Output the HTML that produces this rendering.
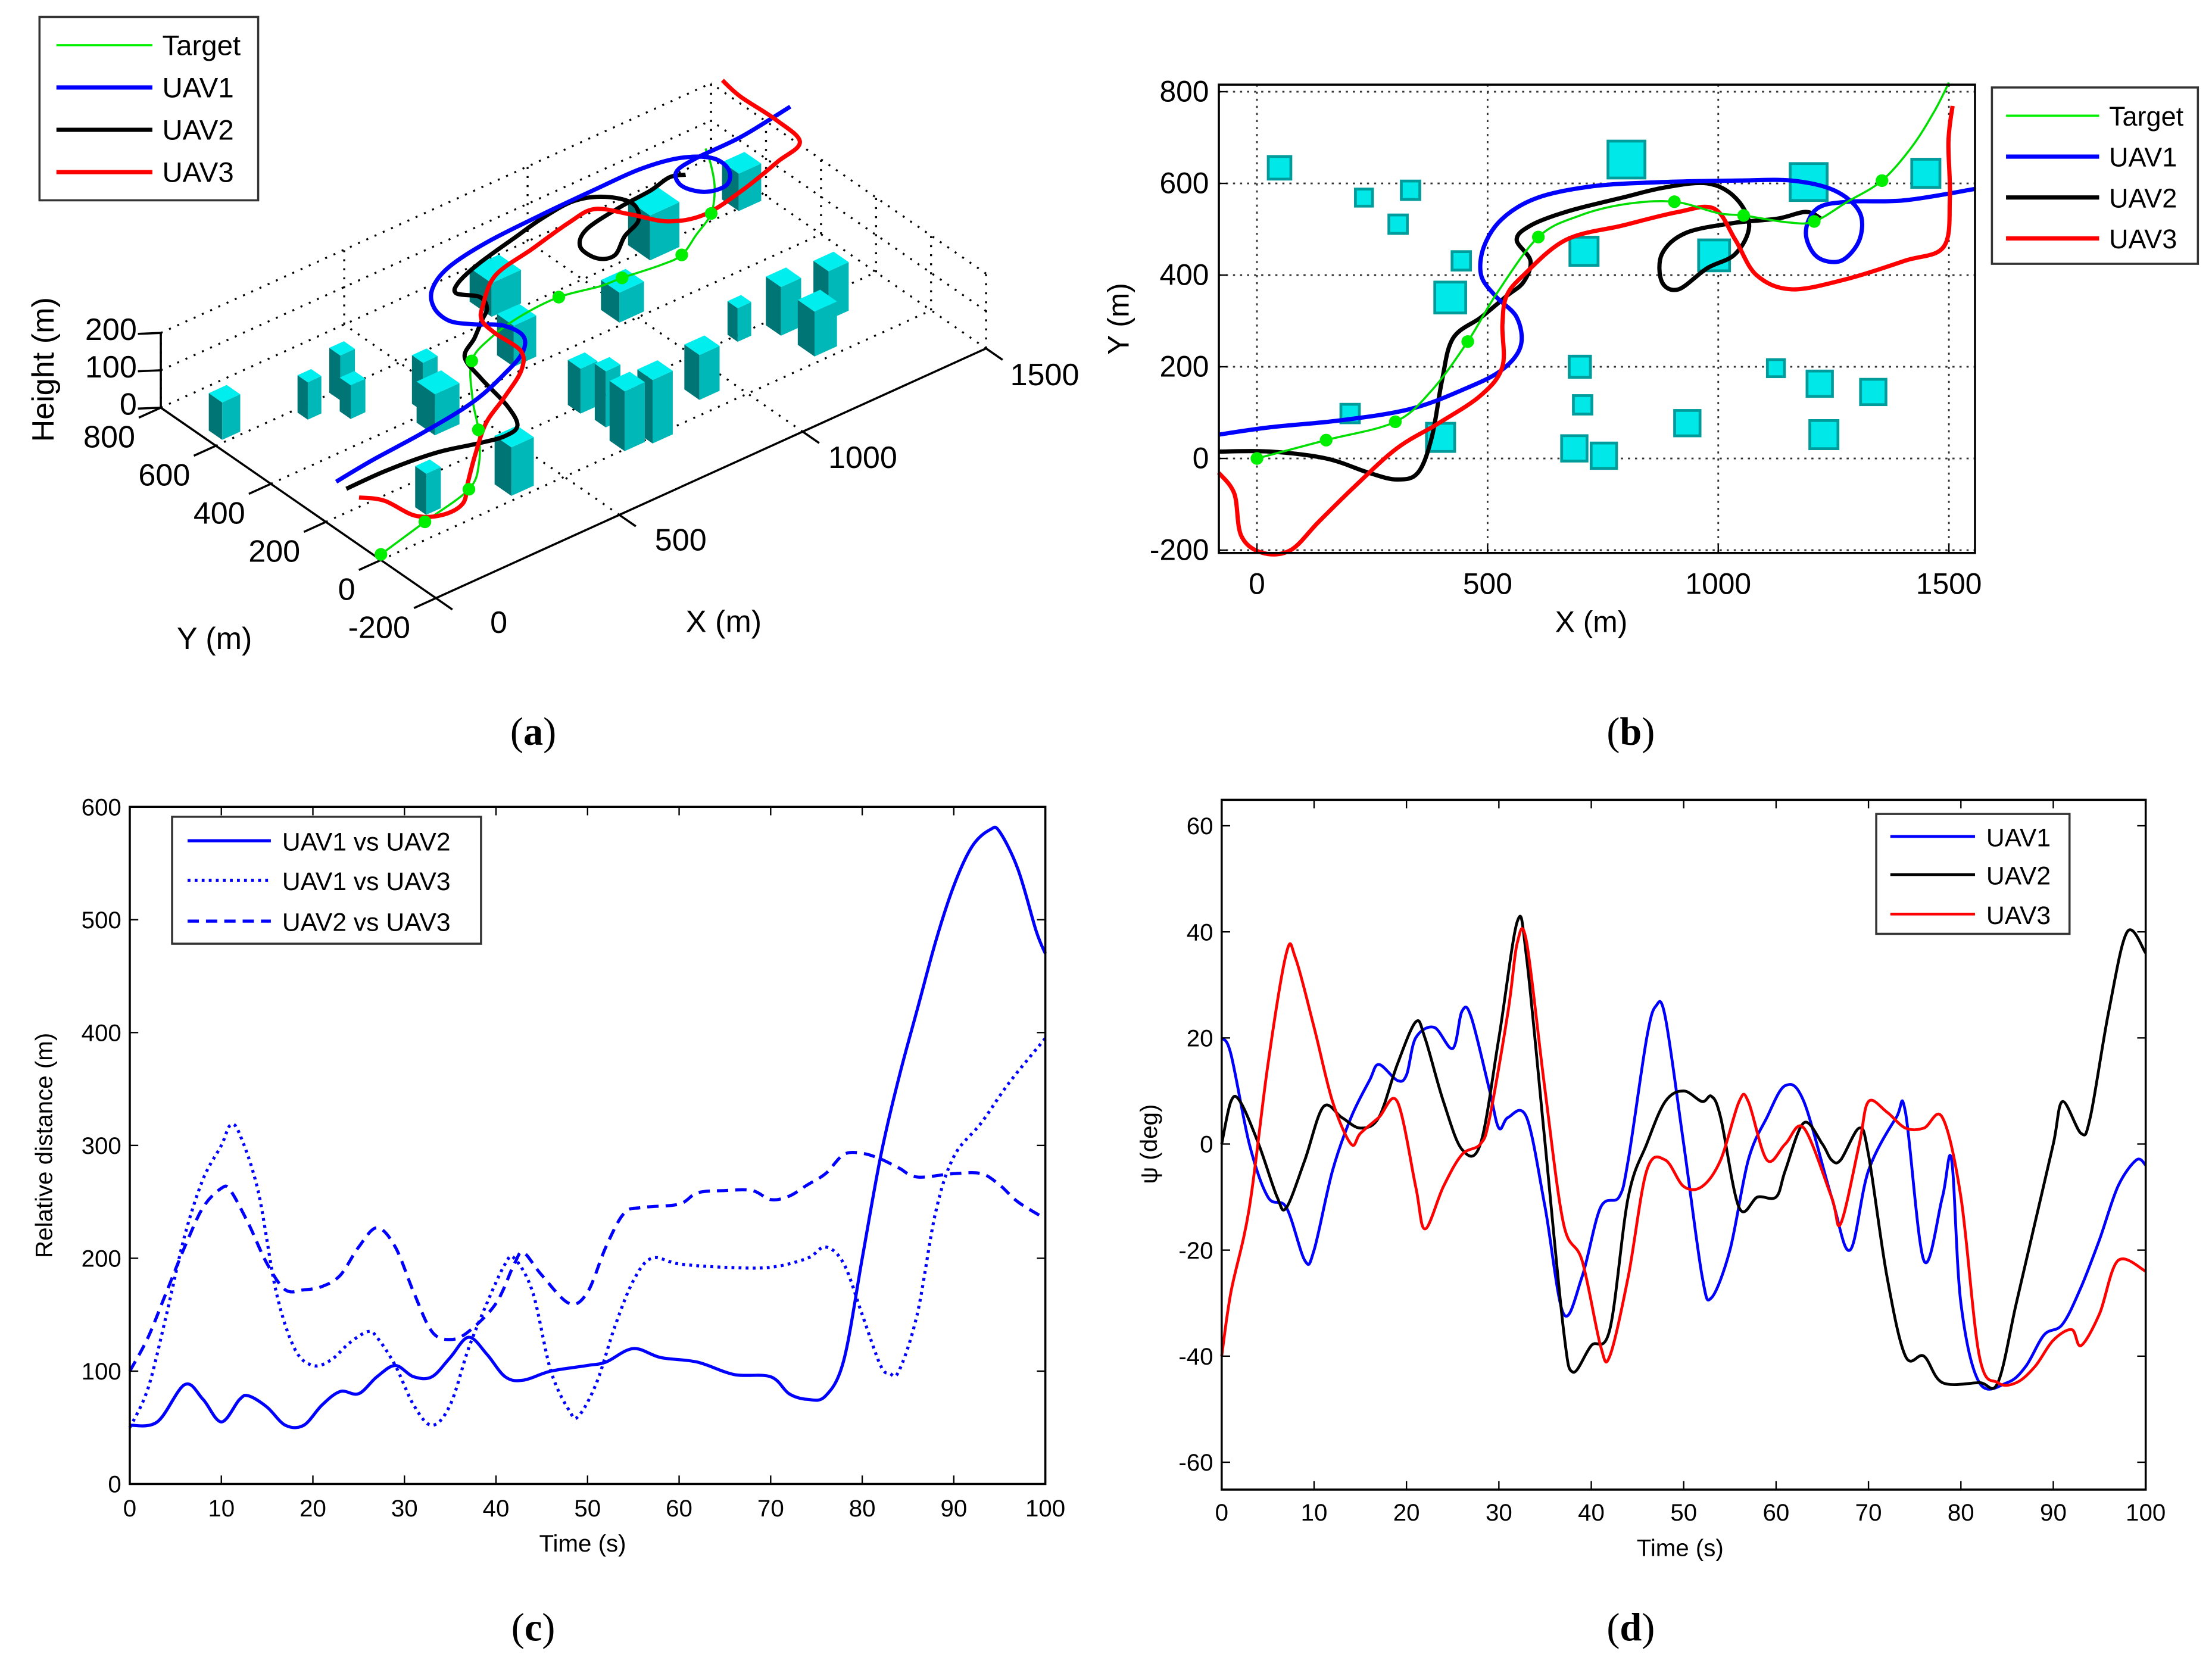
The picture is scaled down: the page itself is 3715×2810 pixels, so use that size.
<!DOCTYPE html>
<html><head><meta charset="utf-8"><style>
html,body{margin:0;padding:0;background:#fff;}
svg{display:block;}
text{font-family:"Liberation Sans",Arial,sans-serif;fill:#000;}
.cap{font-family:"Liberation Serif",serif;font-size:28px;}
</style></head><body>
<svg id="fig" xmlns="http://www.w3.org/2000/svg" width="3715" height="2810" viewBox="0 0 1568 1186">
<rect x="0" y="0" width="1568" height="1186" fill="#fff"/>
<g id="pa"></g>
<g id="pb"></g>
<g id="pc"></g>
<g id="pd"></g>
<text class="cap" x="378" y="528" text-anchor="middle">(<tspan font-weight="bold">a</tspan>)</text>
<text class="cap" x="1156" y="528" text-anchor="middle">(<tspan font-weight="bold">b</tspan>)</text>
<text class="cap" x="378" y="1163" text-anchor="middle">(<tspan font-weight="bold">c</tspan>)</text>
<text class="cap" x="1156" y="1163" text-anchor="middle">(<tspan font-weight="bold">d</tspan>)</text>
</svg>
<script>
const targetX=[0,150,300,380,457,520,610,700,800,905,1000,1055,1150,1208,1280,1355,1420,1470,1500];
const targetY=[0,40,80,150,255,360,483,530,555,560,535,530,515,517,560,606,680,760,820];
const targetDots=[0,1,2,4,6,9,11,13,15];
const uav1X=[-83,28,180,333,456,532,572,563,517,486,492,532,609,731,884,1037,1159,1251,1306,1306,1266,1214,1190,1214,1281,1404,1557];
const uav1Y=[52,68,83,108,154,194,246,308,354,400,462,523,569,594,603,606,606,585,538,477,431,440,492,545,560,563,588];
const uav2X=[-83,28,150,242,303,349,379,401,425,486,541,578,593,563,593,670,792,884,976,1037,1067,1037,976,914,878,878,930,1037,1128,1190,1223];
const uav2Y=[15,15,0,-31,-46,-31,46,169,262,308,354,385,431,477,508,538,569,591,600,569,508,446,415,369,385,446,492,514,523,538,523];
const uav3X=[-83,-49,-34,12,73,134,211,303,394,486,532,532,541,578,670,792,914,991,1037,1083,1159,1281,1404,1489,1502,1499,1508];
const uav3Y=[-31,-77,-169,-206,-200,-138,-62,22,77,138,200,292,354,400,477,508,538,545,477,400,369,392,431,462,569,692,769];
const uavZ=220, targetZ=15;
const bldX=[49,232,333,306,443,419,801,709,991,1196,1450,700,706,202,398,688,752,933,1125,1220,1336,1229];
const bldY=[634,569,585,511,431,351,652,452,443,603,622,200,117,98,46,22,6,77,197,163,145,52];
const bldS=[49,37,40,40,40,67,80,61,67,80,61,46,40,40,61,55,55,55,37,55,55,61];
const bldH=[100,100,120,90,130,110,90,110,80,120,100,120,150,110,130,160,170,120,90,130,130,120];
const cT1=[0,3,6,8,10,12,13,15,17,19,21,23,25,27,29,31,33,35,37,39,41,43,46,50,52,55,58,62,66,70,72,74,76,78,80,82,84,86,88,90,92,94,95,97,99,100];
const cV1=[52,55,88,75,55,75,78,68,52,52,70,82,80,95,105,95,95,112,130,115,95,92,100,105,108,120,112,108,97,95,80,75,78,110,200,290,360,420,480,530,565,580,578,545,490,470];
const cT2=[0,2,4,6,8,10,11,12,14,16,18,20,22,24,26,27,29,31,33,35,37,39,41,42,44,46,48,49,51,53,55,57,60,65,70,74,76,78,80,82,83,84,86,88,90,93,96,100];
const cV2=[50,85,150,220,270,300,318,310,260,170,120,105,110,125,135,130,105,70,52,70,120,160,195,200,170,100,65,60,90,140,180,200,195,192,192,200,210,195,150,105,98,100,150,240,290,320,355,395];
const cT3=[0,2,4,6,8,10,11,13,15,17,19,21,23,25,27,29,31,33,35,37,40,42,43,45,48,50,52,54,56,60,62,65,68,70,72,74,76,78,80,82,84,86,90,93,95,97,100];
const cV3=[100,130,170,210,245,262,260,230,195,172,172,175,185,210,227,210,170,135,128,135,160,195,205,185,160,170,210,240,245,248,258,260,260,252,255,265,275,292,293,288,280,272,275,275,265,250,235];
const cXTicks=[0,10,20,30,40,50,60,70,80,90,100];
const cYTicks=[0,100,200,300,400,500,600];
const dT1=[0,1,3,5,7,9,10,12,14,16,17,19,20,21,23,25,26,27,29,30,31,33,35,37,39,41,43,44,46,47,48,50,52,53,55,57,59,61,63,66,68,70,73,74,76,78,79,80,82,85,87,89,91,93,95,97,99,100];
const dV1=[20,17,0,-10,-12,-22,-20,-5,5,12,15,12,13,20,22,18,25,24,10,3,5,5,-12,-32,-25,-12,-10,-3,20,26,24,0,-25,-29,-20,-3,5,11,8,-10,-20,-5,5,6,-22,-10,-3,-30,-45,-45,-42,-36,-34,-27,-18,-8,-3,-4];
const dT2=[0,1,2,4,6,7,9,11,13,15,17,19,21,22,24,26,28,30,32,33,35,37,38,40,42,44,46,48,50,52,53,54,56,58,60,61,63,65,66,67,69,70,72,74,76,78,82,84,86,88,90,91,93,94,96,98,100];
const dV2=[0,8,8,0,-10,-12,-3,7,5,3,5,15,23,20,8,-1,0,20,42,35,0,-35,-43,-38,-35,-10,0,8,10,8,9,5,-12,-10,-10,-5,4,0,-3,-3,3,-2,-25,-40,-40,-45,-45,-45,-30,-15,0,8,2,5,25,40,36];
const dT3=[0,1,3,5,7,8,10,12,14,15,17,19,21,22,24,26,28,29,31,32,33,35,37,39,41,42,44,46,48,50,52,54,56,57,59,61,63,66,67,69,70,72,74,76,78,80,82,84,86,88,90,92,93,95,97,100];
const dV3=[-40,-28,-12,15,36,35,22,8,0,2,5,8,-8,-16,-8,-2,0,5,25,38,38,10,-15,-22,-38,-40,-25,-5,-3,-8,-8,-3,8,8,-3,0,3,-10,-15,0,8,6,3,3,5,-10,-40,-45,-45,-42,-37,-35,-38,-32,-22,-24];
const dXTicks=[0,10,20,30,40,50,60,70,80,90,100];
const dYTicks=[-60,-40,-20,0,20,40,60];
const bXTicks=[0,500,1000,1500];
const bYTicks=[-200,0,200,400,600,800];

const NS='http://www.w3.org/2000/svg';
function mk(parent,tag,attrs){const e=document.createElementNS(NS,tag);for(const k in attrs)e.setAttribute(k,attrs[k]);parent.appendChild(e);return e;}
function smooth(pts){
  if(pts.length<2)return '';
  let d='M'+pts[0][0].toFixed(1)+','+pts[0][1].toFixed(1);
  for(let i=0;i<pts.length-1;i++){
    const p0=pts[Math.max(i-1,0)],p1=pts[i],p2=pts[i+1],p3=pts[Math.min(i+2,pts.length-1)];
    const c1=[p1[0]+(p2[0]-p0[0])/6,p1[1]+(p2[1]-p0[1])/6],c2=[p2[0]-(p3[0]-p1[0])/6,p2[1]-(p3[1]-p1[1])/6];
    d+=' C'+c1[0].toFixed(1)+','+c1[1].toFixed(1)+' '+c2[0].toFixed(1)+','+c2[1].toFixed(1)+' '+p2[0].toFixed(1)+','+p2[1].toFixed(1);
  }
  return d;
}
function txt(parent,x,y,s,size,anchor,extra){const t=mk(parent,'text',Object.assign({x:x,y:y,'font-size':size,'text-anchor':anchor||'middle'},extra||{}));t.textContent=s;return t;}

const pa=document.getElementById('pa');
function P(X,Y,Z){return [309+0.26*X-0.195*(Y+200), 424-0.118*X-0.135*(Y+200)-0.265*Z];}
function line3(g,a,b,attrs){const p=P(...a),q=P(...b);return mk(g,'line',Object.assign({x1:p[0],y1:p[1],x2:q[0],y2:q[1]},attrs));}
const grid3=mk(pa,'g',{stroke:'#000','stroke-width':1.4,'stroke-dasharray':'1.4,5'});


for(const x of bXTicks){line3(grid3,[x,-200,0],[x,800,0],{});line3(grid3,[x,800,0],[x,800,200],{});}
for(const y of bYTicks){line3(grid3,[0,y,0],[1500,y,0],{});line3(grid3,[1500,y,0],[1500,y,200],{});}
for(const z of [100,200]){line3(grid3,[0,800,z],[1500,800,z],{});line3(grid3,[1500,-200,z],[1500,800,z],{});}
const ax3=mk(pa,'g',{stroke:'#000','stroke-width':1.5});


line3(ax3,[0,-200,0],[1500,-200,0],{});
line3(ax3,[0,-200,0],[0,800,0],{});
line3(ax3,[0,800,0],[0,800,200],{});
for(const x of bXTicks){line3(ax3,[x,-200,0],[x,-260,0],{});}
for(const y of bYTicks){line3(ax3,[0,y,0],[-60,y,0],{});}
for(const z of [0,100,200]){line3(ax3,[0,800,z],[-40,830,z],{});}
bXTicks.forEach(x=>{const p=P(x,-290,0);const t=txt(pa,p[0]+24+ (1500-x)*0.002,p[1]+14-(1500-x)*0.001,String(x),22);});
bYTicks.forEach(y=>{const p=P(-70,y,0);const t=txt(pa,p[0],p[1]+20,String(y),22,'end');});
[0,100,200].forEach(z=>{const p=P(0,800,z);const t=txt(pa,p[0]-17,p[1]+5,String(z),22,'end');});
let t=txt(pa,513,448,'X (m)',22);
t=txt(pa,152,460,'Y (m)',22);
t=txt(pa,38,262,'Height (m)',22,'middle',{transform:'rotate(-90 38 262)'});
const order=bldX.map((_,i)=>i).sort((a,b)=>(bldX[b]+bldY[b]*1.3)-(bldX[a]+bldY[a]*1.3));
const bg=mk(pa,'g',{});


for(const i of order){
  const h=bldS[i]/2,x0=bldX[i]-h,x1=bldX[i]+h,y0=bldY[i]-h,y1=bldY[i]+h,H=bldH[i];
  const poly=(arr,fill)=>{const p=mk(bg,'polygon',{points:arr.map(a=>P(...a).map(v=>v.toFixed(1)).join(',')).join(' '),fill:fill});};
  poly([[x0,y0,0],[x0,y1,0],[x0,y1,H],[x0,y0,H]],'#007575');
  poly([[x0,y0,0],[x1,y0,0],[x1,y0,H],[x0,y0,H]],'#00b8b8');
  poly([[x0,y0,H],[x1,y0,H],[x1,y1,H],[x0,y1,H]],'#00eeee');
}
function traj3(xs,ys,z,col,w,name){
  const p=mk(pa,'path',{d:smooth(xs.map((x,i)=>P(x,ys[i],z))),fill:'none',stroke:col,'stroke-width':w,'stroke-linejoin':'round'});
  
  
}
traj3(targetX,targetY,targetZ,'#00dd00',1.5,'target-path-3d');
traj3(uav2X,uav2Y,uavZ,'#000',3,'uav2-path-3d');
traj3(uav1X,uav1Y,uavZ,'#0000ff',3,'uav1-path-3d');
traj3(uav3X,uav3Y,uavZ,'#ff0000',3,'uav3-path-3d');
targetDots.forEach(i=>{const p=P(targetX[i],targetY[i],targetZ);const c=mk(pa,'circle',{cx:p[0],cy:p[1],r:4.5,fill:'#00ee00'});});

function legend(g,x,y,w,h,rows,lx1,lx2,tx,fs,name){
  const lg=mk(g,'g',{});
  
  
  mk(lg,'rect',{x:x,y:y,width:w,height:h,fill:'#fff',stroke:'#333','stroke-width':1.5});
  rows.forEach(r=>{
    const l=mk(lg,'line',{x1:lx1,x2:lx2,y1:r.y,y2:r.y,stroke:r.c,'stroke-width':r.w||2,'stroke-dasharray':r.d||'none'});
    
    
    const tt=txt(lg,tx,r.y+7,r.t,fs,'start');
    
    
  });
}
legend(pa,28,12,155,130,[{y:32,c:'#00ee00',t:'Target',w:1.5},{y:62,c:'#0000ff',t:'UAV1',w:3},{y:92,c:'#000',t:'UAV2',w:3},{y:122,c:'#ff0000',t:'UAV3',w:3}],40,108,115,20,'legend-3d');

const pb=document.getElementById('pb');
const bx=X=>891+0.327*X, by=Y=>325-0.325*Y;
const bgG=mk(pb,'g',{stroke:'#333','stroke-width':1.2,'stroke-dasharray':'1.5,3.5'});


bXTicks.forEach(x=>mk(bgG,'line',{x1:bx(x),x2:bx(x),y1:60,y2:392}));
bYTicks.forEach(y=>mk(bgG,'line',{x1:864,x2:1400,y1:by(y),y2:by(y)}));
for(let i=0;i<bldX.length;i++){
  const s=bldS[i]*0.327;
  const r=mk(pb,'rect',{x:bx(bldX[i])-s/2,y:by(bldY[i])-s/2,width:s,height:s,fill:'#00e8e8',stroke:'#009c9c','stroke-width':2});
  
  
}
function trajB(xs,ys,col,w,name){
  const p=mk(pb,'path',{d:smooth(xs.map((x,i)=>[bx(x),by(ys[i])])),fill:'none',stroke:col,'stroke-width':w,'stroke-linejoin':'round'});
  
  
}
trajB(uav2X,uav2Y,'#000',3,'uav2-path');
trajB(uav1X,uav1Y,'#0000ff',3,'uav1-path');
trajB(uav3X,uav3Y,'#ff0000',3,'uav3-path');
trajB(targetX,targetY,'#00dd00',1.5,'target-path');
targetDots.forEach(i=>{const c=mk(pb,'circle',{cx:bx(targetX[i]),cy:by(targetY[i]),r:4.5,fill:'#00ee00'});});
const bAx=mk(pb,'rect',{x:864,y:60,width:536,height:332,fill:'none',stroke:'#000','stroke-width':1.5});


bXTicks.forEach(x=>{mk(pb,'line',{x1:bx(x),x2:bx(x),y1:392,y2:386,stroke:'#000'});const tt=txt(pb,bx(x),421,String(x),21);});
bYTicks.forEach(y=>{mk(pb,'line',{x1:864,x2:870,y1:by(y),y2:by(y),stroke:'#000'});const tt=txt(pb,857,by(y)+7,String(y),21,'end');});
t=txt(pb,1128,448,'X (m)',21);
t=txt(pb,800,226,'Y (m)',21,'middle',{transform:'rotate(-90 800 226)'});
legend(pb,1412,62,146,125,[{y:82,c:'#00ee00',t:'Target',w:1.5},{y:111,c:'#0000ff',t:'UAV1',w:3},{y:140,c:'#000',t:'UAV2',w:3},{y:169,c:'#ff0000',t:'UAV3',w:3}],1422,1488,1495,19,'legend-b');

const pc=document.getElementById('pc');
const cx=v=>92+6.49*v, cy=v=>1052-0.8*v;
function seriesC(ts,vs,dash,name){
  const p=mk(pc,'path',{d:smooth(ts.map((tt,i)=>[cx(tt),cy(vs[i])])),fill:'none',stroke:'#0000ff','stroke-width':2.2,'stroke-dasharray':dash});
  
  
}
seriesC(cT1,cV1,'none','uav1-vs-uav2-line');
seriesC(cT2,cV2,'2,3','uav1-vs-uav3-line');
seriesC(cT3,cV3,'8,5','uav2-vs-uav3-line');
const cAx=mk(pc,'rect',{x:92,y:572,width:649,height:480,fill:'none',stroke:'#000','stroke-width':1.5});


cXTicks.forEach(v=>{mk(pc,'line',{x1:cx(v),x2:cx(v),y1:1052,y2:1046,stroke:'#000'});mk(pc,'line',{x1:cx(v),x2:cx(v),y1:572,y2:578,stroke:'#000'});const tt=txt(pc,cx(v),1075,String(v),17);});
cYTicks.forEach(v=>{mk(pc,'line',{x1:92,x2:98,y1:cy(v),y2:cy(v),stroke:'#000'});mk(pc,'line',{x1:741,x2:735,y1:cy(v),y2:cy(v),stroke:'#000'});const tt=txt(pc,86,cy(v)+6,String(v),17,'end');});
t=txt(pc,413,1100,'Time (s)',17);
t=txt(pc,37,812,'Relative distance (m)',17,'middle',{transform:'rotate(-90 37 812)'});
legend(pc,122,579,219,90,[{y:596,c:'#0000ff',t:'UAV1 vs UAV2',w:2.2},{y:624,c:'#0000ff',t:'UAV1 vs UAV3',w:2.2,d:'2,3'},{y:653,c:'#0000ff',t:'UAV2 vs UAV3',w:2.2,d:'8,5'}],133,192,200,18,'legend-c');

const pd=document.getElementById('pd');
const dx=v=>866+6.55*v, dy=v=>811-3.76*v;
function seriesD(ts,vs,col,name){
  const p=mk(pd,'path',{d:smooth(ts.map((tt,i)=>[dx(tt),dy(vs[i])])),fill:'none',stroke:col,'stroke-width':2});
  
  
}
seriesD(dT1,dV1,'#0000ff','uav1-heading-line');
seriesD(dT2,dV2,'#000','uav2-heading-line');
seriesD(dT3,dV3,'#ff0000','uav3-heading-line');
const dAx=mk(pd,'rect',{x:866,y:567,width:655,height:489,fill:'none',stroke:'#000','stroke-width':1.5});


dXTicks.forEach(v=>{mk(pd,'line',{x1:dx(v),x2:dx(v),y1:1056,y2:1050,stroke:'#000'});mk(pd,'line',{x1:dx(v),x2:dx(v),y1:567,y2:573,stroke:'#000'});const tt=txt(pd,dx(v),1078,String(v),17);});
dYTicks.forEach(v=>{mk(pd,'line',{x1:866,x2:872,y1:dy(v),y2:dy(v),stroke:'#000'});mk(pd,'line',{x1:1521,x2:1515,y1:dy(v),y2:dy(v),stroke:'#000'});const tt=txt(pd,860,dy(v)+6,String(v),17,'end');});
t=txt(pd,1191,1103,'Time (s)',17);
t=txt(pd,820,811,'ψ (deg)',17,'middle',{transform:'rotate(-90 820 811)'});
legend(pd,1330,577,137,85,[{y:593,c:'#0000ff',t:'UAV1',w:2},{y:620,c:'#000',t:'UAV2',w:2},{y:648,c:'#ff0000',t:'UAV3',w:2}],1340,1400,1408,18,'legend-d');
</script>
</body></html>
